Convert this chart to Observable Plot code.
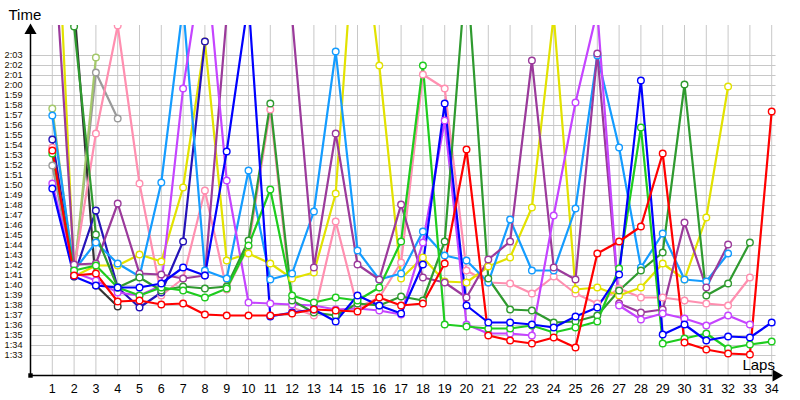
<!DOCTYPE html>
<html><head><meta charset="utf-8">
<script src="https://cdn.jsdelivr.net/npm/d3@7"></script>
<script src="https://cdn.jsdelivr.net/npm/@observablehq/plot@0.6"></script>
<style>body{margin:0;background:#fff}</style>
</head><body><div id="chart"></div>
<script>
// Laps 1..34, lap times in seconds (null = no lap)
const laps = d3.range(1, 35);
const gridSeconds = d3.range(93, 124); // 1:33 .. 2:03

const red    = [113.5,101.0,101.2,98.4,98.5,98.1,98.2,97.1,97.0,97.0,97.0,97.2,97.6,97.5,97.4,98.8,98.0,98.2,102.2,113.6,95.0,94.5,94.2,94.8,93.8,103.2,104.4,105.9,113.2,94.3,93.6,93.2,93.1,117.4];
const blue   = [109.7,100.9,100.0,99.8,99.8,100.2,101.8,101.0,113.4,128.5,96.9,97.3,97.6,96.4,99.0,98.0,97.2,102.1,118.2,98.0,96.3,96.3,96.1,95.8,96.9,97.8,101.1,120.5,95.1,96.1,94.5,94.9,94.8,96.3];
const navy   = [114.6,101.0,107.5,99.8,97.8,99.3,104.4,124.4,null,null,null,null,null,null,null,null,null,null,null,null,null,null,null,null,null,null,null,null,null,null,null,null,null,null];
const green  = [113.2,101.5,102.0,99.8,99.0,99.8,99.5,98.8,99.7,104.0,109.6,99.0,98.3,98.8,98.5,99.8,104.4,122.0,96.1,95.9,95.7,95.7,96.0,95.3,95.8,96.4,101.7,115.8,94.2,94.7,95.2,93.7,94.1,94.4];
const dkgreen= [null,125.9,105.1,99.8,100.8,99.5,99.9,99.7,99.9,104.5,118.2,98.5,97.3,97.0,98.2,98.0,98.9,98.5,104.4,132,100.7,97.6,97.5,96.3,96.4,97.0,99.5,101.5,103.3,120.1,99.0,100.2,104.3,null];
const purple = [136.6,102.1,102.2,108.2,101.2,101.1,100.7,101.0,127,132,132,126.8,101.8,115.2,102.1,100.6,108.1,100.8,100.3,98.8,102.6,104.4,122.5,101.8,100.6,123.2,98.2,97.3,97.6,106.3,99.8,104.1,null,null];
const violet = [110.2,101.3,100.5,99.3,99.0,100.0,119.7,134,110.5,98.3,98.2,98.1,98.0,97.6,97.7,97.5,97.1,104.3,116.5,96.1,95.2,95.2,95.0,107.0,118.3,127.5,98.0,96.6,97.2,96.7,96.0,97.0,96.1,null];
const yellow = [148,100.9,102.0,102.0,103.1,102.4,109.8,124.4,102.5,103.2,102.2,100.7,101.3,109.2,140,122.0,100.7,102.8,100.4,100.3,101.9,102.8,107.8,127,99.6,99.8,99.0,99.8,102.2,100.6,106.8,119.9,null,null];
const ltblue = [117.0,101.5,104.3,102.2,100.9,110.3,128,101.5,100.7,111.5,100.6,101.2,107.4,123.4,103.5,100.6,101.2,105.4,103.0,102.5,100.3,106.6,101.5,101.5,107.7,123.0,113.8,101.8,105.2,100.6,100.4,103.2,null,null];
const pink   = [113.8,101.6,115.2,126,110.2,99.0,100.7,109.5,99.6,103.9,117.6,97.8,97.0,106.4,97.8,98.8,102.3,121.1,119.7,101.5,100.3,100.2,99.2,100.9,99.2,98.2,99.7,98.8,98.8,98.5,98.2,98.0,100.8,null];
const gray   = [112.0,101.0,121.3,116.7,null,null,null,null,null,null,null,null,null,null,null,null,null,null,null,null,null,null,null,null,null,null,null,null,null,null,null,null,null,null];
const black  = [null,128,100.0,97.9,null,null,null,null,null,null,null,null,null,null,null,null,null,null,null,null,null,null,null,null,null,null,null,null,null,null,null,null,null,null];
const ygreen = [117.7,100.9,122.8,null,null,null,null,null,null,null,null,null,null,null,null,null,null,null,null,null,null,null,null,null,null,null,null,null,null,null,null,null,null,null];

const series = [
  {values: gray,    color: "#9a9a9a"},
  {values: black,   color: "#333333"},
  {values: ygreen,  color: "#a3c86a"},
  {values: pink,    color: "#ff8fb0"},
  {values: yellow,  color: "#e2e200"},
  {values: navy,    color: "#2412b8"},
  {values: ltblue,  color: "#149cff"},
  {values: purple,  color: "#9b3a9b"},
  {values: violet,  color: "#c544ff"},
  {values: dkgreen, color: "#2f9a2f"},
  {values: green,   color: "#1ecc1e"},
  {values: blue,    color: "#0000ff"},
  {values: red,     color: "#ff0000"}
];

const fmt = s => `${Math.floor(s / 60)}:${String(s % 60).padStart(2, "0")}`;

const lineMarks = [], dotMarks = [];
for (const s of series) {
  const rows = laps.map((lap, i) => ({lap, t: s.values[i]}));
  lineMarks.push(Plot.line(rows, {x: "lap", y: "t", stroke: s.color, strokeWidth: 2.2, clip: true}));
  dotMarks.push(Plot.dot(rows.filter(d => d.t != null), {x: "lap", y: "t", r: 3.3, fill: "white", stroke: s.color, strokeWidth: 1.4, clip: true}));
}

const chart = Plot.plot({
  width: 800, height: 400,
  marginLeft: 30, marginRight: 7, marginTop: 25, marginBottom: 25,
  x: {domain: [0, 35], axis: null},
  y: {domain: [91, 126], axis: null},
  style: {fontFamily: "Liberation Sans, Arial, sans-serif", background: "#fff", color: "#000"},
  marks: [
    Plot.ruleX(laps, {stroke: "#c8c8c8", strokeWidth: 1}),
    Plot.ruleY(gridSeconds, {x1: 0, x2: 34.2, stroke: "#c8c8c8", strokeWidth: 1}),
    ...lineMarks,
    ...dotMarks,
    // axes
    Plot.ruleX([0], {y1: 91, y2: 125.4, stroke: "#000", strokeWidth: 1.5}),
    Plot.ruleY([91], {x1: 0, x2: 34.05, stroke: "#000", strokeWidth: 1.5}),
    Plot.dot([0], {x: 0, y: 125.5, symbol: "triangle", r: 4.5, fill: "#000", stroke: null}),
    Plot.dot([0], {x: 34.2, y: 91, symbol: "triangle", r: 4.5, rotate: 90, fill: "#000", stroke: null}),
    Plot.dot([0], {x: 0, y: 91, symbol: "square", r: 2.5, fill: "#000", stroke: null}),
    // tick labels
    Plot.text(gridSeconds, {x: 0, y: d => d, text: fmt, dx: -8, textAnchor: "end", fontSize: 9.2, fill: "#1a1000"}),
    Plot.text(laps, {x: d => d, y: 91, text: d => String(d), dy: 13, fontSize: 12.5, fill: "#000"}),
    // axis titles
    Plot.text(["Time"], {x: 0, y: 126, text: d => d, dx: -22, dy: -10, textAnchor: "start", fontSize: 15, fill: "#000"}),
    Plot.text(["Laps"], {x: 34.15, y: 91, text: d => d, dy: -10, textAnchor: "end", fontSize: 15, fill: "#000"})
  ]
});
document.getElementById("chart").appendChild(chart);
</script>
</body></html>
